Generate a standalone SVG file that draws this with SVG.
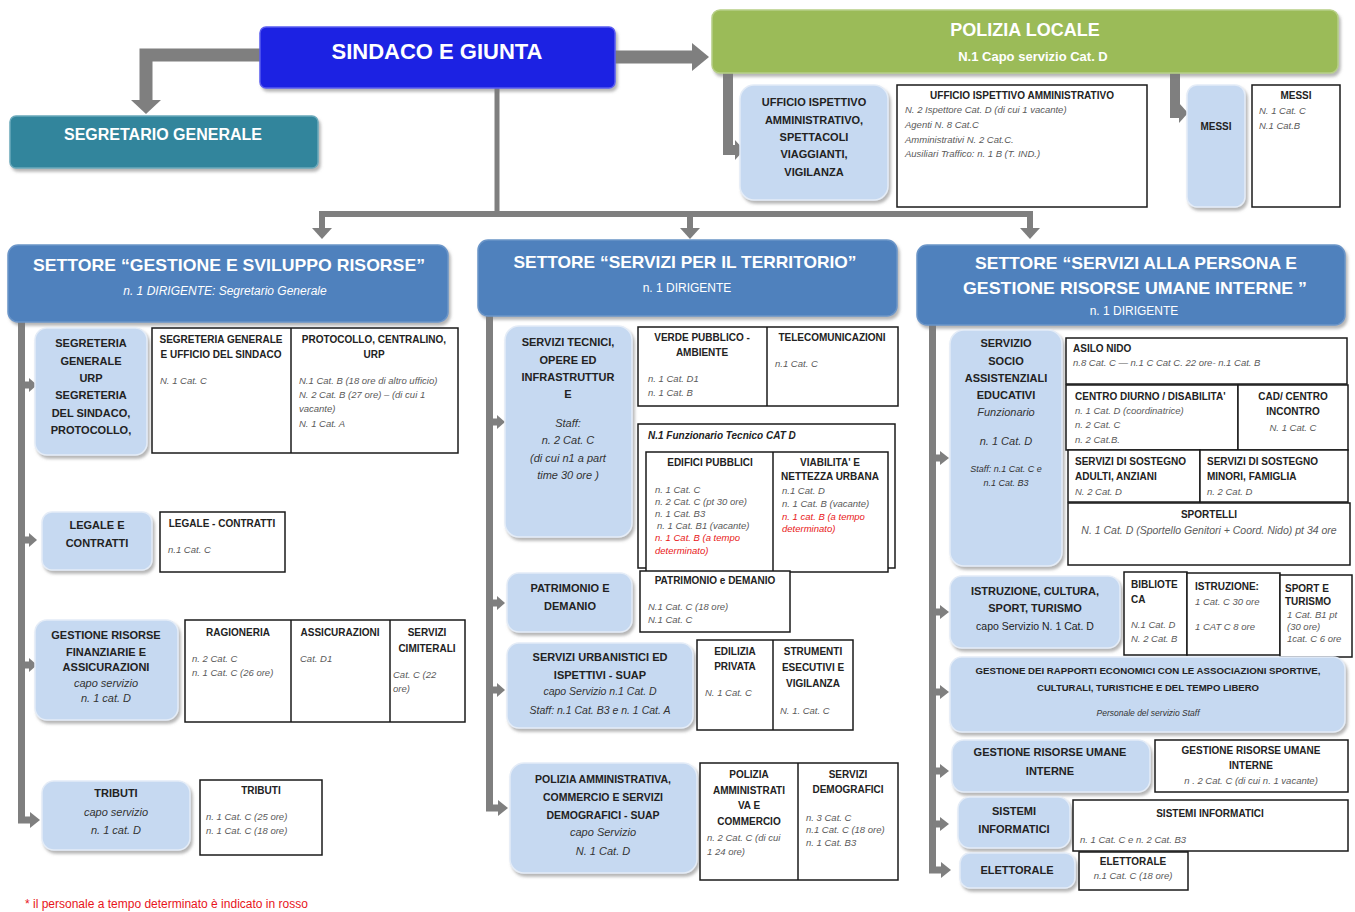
<svg xmlns="http://www.w3.org/2000/svg" width="1355" height="912" viewBox="0 0 1355 912">
<defs>
<filter id="sh" x="-10%" y="-10%" width="125%" height="130%"><feDropShadow dx="2" dy="3" stdDeviation="1.8" flood-color="#7a7a7a" flood-opacity="0.55"/></filter>
<style>
text{font-family:"Liberation Sans",Arial,sans-serif}
.lb{fill:#c6d9f1;stroke:#e4ecf7;stroke-width:1.5;filter:url(#sh)}
.wb{fill:#fff;stroke:#1a1a1a;stroke-width:1.5}
.dv{stroke:#1a1a1a;stroke-width:1.5}
.b{font-weight:bold;font-size:11px;fill:#222;text-anchor:middle}
.bi{font-style:italic;font-size:11px;fill:#333;text-anchor:middle}
.wt{font-weight:bold;font-size:10px;fill:#222;text-anchor:middle}
.wl{font-weight:bold;font-size:10px;fill:#222}
.c{font-style:italic;font-size:9.5px;fill:#5a5a5a}
.r{fill:#e81818}
.st{fill:#4f81bd;stroke:#6b95c8;stroke-width:1.5;filter:url(#sh)}
.sth{font-weight:bold;font-size:17px;fill:#fff;text-anchor:middle}
.sts{font-size:12px;fill:#fff;text-anchor:middle}
.ln{fill:none;stroke:#7f7f7f;stroke-linejoin:miter}
.ah{fill:#7f7f7f}
</style>
</defs>
<rect width="1355" height="912" fill="#fff"/>

<g id="connectors">
<path class="ln" d="M262 55 H146 V101" stroke-width="13"/>
<polygon class="ah" points="131,100 161,100 146,114"/>
<path class="ln" d="M613 57 H693" stroke-width="13"/>
<polygon class="ah" points="692,43 692,71 709,57"/>
<path class="ln" d="M497 88 V215" stroke-width="5"/>
<path class="ln" d="M319 214 H1033" stroke-width="6"/>
<path class="ln" d="M322 214 V229 M690 214 V229 M1030 214 V229" stroke-width="6"/>
<polygon class="ah" points="312,228 332,228 322,239"/>
<polygon class="ah" points="680,228 700,228 690,239"/>
<polygon class="ah" points="1020,228 1040,228 1030,239"/>
<path class="ln" d="M728 72 V150 H736" stroke-width="10"/>
<polygon class="ah" points="735,140 735,160 744,150"/>
<path class="ln" d="M1175 72 V113 H1180" stroke-width="10"/>
<polygon class="ah" points="1179,103 1179,123 1188,113"/>
<path class="ln" d="M21.5 322 V820 H31" stroke-width="7"/>
<path class="ln" d="M21.5 385 H30 M21.5 540 H30 M21.5 665 H30" stroke-width="7"/>
<polygon class="ah" points="29,378 29,392 37,385"/>
<polygon class="ah" points="29,533 29,547 37,540"/>
<polygon class="ah" points="29,658 29,672 37,665"/>
<polygon class="ah" points="30,812 30,828 40,820"/>
<path class="ln" d="M489.5 316 V808 H499" stroke-width="7"/>
<path class="ln" d="M489.5 422 H498 M489.5 603 H498 M489.5 690 H498" stroke-width="7"/>
<polygon class="ah" points="497,415 497,429 505,422"/>
<polygon class="ah" points="497,596 497,610 505,603"/>
<polygon class="ah" points="497,683 497,697 505,690"/>
<polygon class="ah" points="498,800 498,816 508,808"/>
<path class="ln" d="M932.5 325 V870 H942" stroke-width="7"/>
<path class="ln" d="M932.5 458 H941 M932.5 612 H941 M932.5 692 H941 M932.5 771 H941 M932.5 824 H941" stroke-width="7"/>
<polygon class="ah" points="940,451 940,465 949,458"/>
<polygon class="ah" points="940,605 940,619 949,612"/>
<polygon class="ah" points="940,685 940,699 949,692"/>
<polygon class="ah" points="940,764 940,778 949,771"/>
<polygon class="ah" points="940,817 940,831 949,824"/>
<polygon class="ah" points="941,862 941,878 951,870"/>
</g>

<g id="sindaco">
<rect x="260" y="27" width="355" height="61" rx="6" fill="#1f20e3" stroke="#5a5cf0" stroke-width="1.5" filter="url(#sh)"/>
<text x="437" y="59" font-size="22" font-weight="bold" fill="#fff" text-anchor="middle">SINDACO E GIUNTA</text>
</g>
<g id="polizia-locale">
<rect x="712" y="10" width="626" height="63" rx="8" fill="#9bbb59" stroke="#b7cf86" stroke-width="1.5" filter="url(#sh)"/>
<text x="1025" y="36" font-size="18" font-weight="bold" fill="#fff" text-anchor="middle">POLIZIA LOCALE</text>
<text x="1033" y="61" font-size="13" font-weight="bold" fill="#fff" text-anchor="middle">N.1 Capo servizio Cat. D</text>
</g>
<g id="segretario">
<rect x="10" y="116" width="308" height="52" rx="6" fill="#31859c" stroke="#6aa9bb" stroke-width="1.5" filter="url(#sh)"/>
<text x="163" y="140" font-size="16" font-weight="bold" fill="#fff" text-anchor="middle">SEGRETARIO GENERALE</text>
</g>

<g id="uff-ispettivo">
<rect class="lb" x="740" y="85" width="148" height="115" rx="14"/>
<text class="b" x="814" y="106">UFFICIO ISPETTIVO</text>
<text class="b" x="814" y="124">AMMINISTRATIVO,</text>
<text class="b" x="814" y="141">SPETTACOLI</text>
<text class="b" x="814" y="158">VIAGGIANTI,</text>
<text class="b" x="814" y="176">VIGILANZA</text>
</g>
<g id="uff-ispettivo-det">
<rect class="wb" x="897" y="85" width="250" height="122"/>
<text class="wt" x="1022" y="99">UFFICIO ISPETTIVO AMMINISTRATIVO</text>
<text class="c" x="905" y="113">N. 2 Ispettore Cat. D (di cui 1 vacante)</text>
<text class="c" x="905" y="128">Agenti  N. 8 Cat.C</text>
<text class="c" x="905" y="143">Amministrativi N. 2  Cat.C.</text>
<text class="c" x="905" y="157">Ausiliari Traffico: n. 1 B (T. IND.)</text>
</g>
<g id="messi">
<rect class="lb" x="1187" y="85" width="58" height="122" rx="10"/>
<text class="b" x="1216" y="130" style="font-size:10px">MESSI</text>
</g>
<g id="messi-det">
<rect class="wb" x="1252" y="85" width="88" height="122"/>
<text class="wt" x="1296" y="99">MESSI</text>
<text class="c" x="1259" y="114">N. 1 Cat. C</text>
<text class="c" x="1259" y="129">N.1 Cat.B</text>
</g>

<g id="settore-risorse">
<rect class="st" x="8" y="245" width="440" height="77" rx="10"/>
<text class="sth" x="229" y="271" textLength="392" lengthAdjust="spacingAndGlyphs">SETTORE “GESTIONE E SVILUPPO RISORSE”</text>
<text class="sts" x="225" y="295" font-style="italic">n. 1 DIRIGENTE:  Segretario Generale</text>
</g>
<g id="settore-territorio">
<rect class="st" x="478" y="240" width="419" height="76" rx="10"/>
<text class="sth" x="685" y="268" textLength="343" lengthAdjust="spacingAndGlyphs">SETTORE “SERVIZI PER IL TERRITORIO”</text>
<text class="sts" x="687" y="292">n. 1 DIRIGENTE</text>
</g>
<g id="settore-persona">
<rect class="st" x="917" y="245" width="428" height="80" rx="10"/>
<text class="sth" x="1136" y="269" textLength="322" lengthAdjust="spacingAndGlyphs">SETTORE “SERVIZI ALLA PERSONA  E</text>
<text class="sth" x="1135" y="294" textLength="344" lengthAdjust="spacingAndGlyphs">GESTIONE RISORSE UMANE INTERNE ”</text>
<text class="sts" x="1134" y="315">n. 1 DIRIGENTE</text>
</g>

<g id="segreteria">
<rect class="lb" x="35" y="328" width="112" height="127" rx="12"/>
<text class="b" x="91" y="347">SEGRETERIA</text>
<text class="b" x="91" y="365">GENERALE</text>
<text class="b" x="91" y="382">URP</text>
<text class="b" x="91" y="399">SEGRETERIA</text>
<text class="b" x="91" y="417">DEL SINDACO,</text>
<text class="b" x="91" y="434">PROTOCOLLO,</text>
</g>
<g id="segreteria-det">
<rect class="wb" x="152" y="328" width="306" height="125"/>
<line class="dv" x1="291" y1="328" x2="291" y2="453"/>
<text class="wt" x="221" y="343">SEGRETERIA GENERALE</text>
<text class="wt" x="221" y="358">E UFFICIO DEL SINDACO</text>
<text class="c" x="160" y="384">N. 1 Cat. C</text>
<text class="wt" x="374" y="343">PROTOCOLLO, CENTRALINO,</text>
<text class="wt" x="374" y="358">URP</text>
<text class="c" x="299" y="384">N.1 Cat. B (18 ore di altro ufficio)</text>
<text class="c" x="299" y="398">N. 2 Cat. B (27 ore) – (di cui 1</text>
<text class="c" x="299" y="412">vacante)</text>
<text class="c" x="299" y="427">N. 1 Cat. A</text>
</g>
<g id="legale">
<rect class="lb" x="42" y="512" width="110" height="58" rx="10"/>
<text class="b" x="97" y="529">LEGALE  E</text>
<text class="b" x="97" y="547">CONTRATTI</text>
</g>
<g id="legale-det">
<rect class="wb" x="160" y="512" width="125" height="60"/>
<text class="wt" x="222" y="527">LEGALE - CONTRATTI</text>
<text class="c" x="168" y="553">n.1 Cat. C</text>
</g>
<g id="gestione-finanziarie">
<rect class="lb" x="35" y="620" width="143" height="100" rx="12"/>
<text class="b" x="106" y="639">GESTIONE RISORSE</text>
<text class="b" x="106" y="656">FINANZIARIE E</text>
<text class="b" x="106" y="671">ASSICURAZIONI</text>
<text class="bi" x="106" y="687">capo servizio</text>
<text class="bi" x="106" y="702">n. 1 cat. D</text>
</g>
<g id="gestione-finanziarie-det">
<rect class="wb" x="185" y="620" width="280" height="102"/>
<line class="dv" x1="291" y1="620" x2="291" y2="722"/>
<line class="dv" x1="390" y1="620" x2="390" y2="722"/>
<text class="wt" x="238" y="636">RAGIONERIA</text>
<text class="c" x="192" y="662">n. 2 Cat. C</text>
<text class="c" x="192" y="676">n. 1 Cat. C (26 ore)</text>
<text class="wt" x="340" y="636">ASSICURAZIONI</text>
<text class="c" x="300" y="662">Cat. D1</text>
<text class="wt" x="427" y="636">SERVIZI</text>
<text class="wt" x="427" y="652">CIMITERALI</text>
<text class="c" x="393" y="678">Cat. C (22</text>
<text class="c" x="393" y="692">ore)</text>
</g>
<g id="tributi">
<rect class="lb" x="42" y="781" width="148" height="69" rx="12"/>
<text class="b" x="116" y="797">TRIBUTI</text>
<text class="bi" x="116" y="816">capo servizio</text>
<text class="bi" x="116" y="834">n. 1 cat. D</text>
</g>
<g id="tributi-det">
<rect class="wb" x="200" y="780" width="122" height="75"/>
<text class="wt" x="261" y="794">TRIBUTI</text>
<text class="c" x="206" y="820">n. 1 Cat. C  (25 ore)</text>
<text class="c" x="206" y="834">n. 1 Cat. C (18 ore)</text>
</g>

<g id="servizi-tecnici">
<rect class="lb" x="505" y="326" width="127" height="211" rx="14"/>
<text class="b" x="568" y="346">SERVIZI TECNICI,</text>
<text class="b" x="568" y="364">OPERE ED</text>
<text class="b" x="568" y="381">INFRASTRUTTUR</text>
<text class="b" x="568" y="398">E</text>
<text class="bi" x="568" y="427">Staff:</text>
<text class="bi" x="568" y="444">n. 2 Cat.  C</text>
<text class="bi" x="568" y="462">(di cui n1 a part</text>
<text class="bi" x="568" y="479">time 30 ore )</text>
</g>
<g id="verde-telecom">
<rect class="wb" x="638" y="327" width="260" height="79"/>
<line class="dv" x1="767" y1="327" x2="767" y2="406"/>
<text class="wt" x="702" y="341">VERDE PUBBLICO -</text>
<text class="wt" x="702" y="356">AMBIENTE</text>
<text class="c" x="648" y="382">n. 1 Cat. D1</text>
<text class="c" x="648" y="396">n. 1 Cat. B</text>
<text class="wt" x="832" y="341">TELECOMUNICAZIONI</text>
<text class="c" x="775" y="367">n.1 Cat. C</text>
</g>
<g id="funzionario-tecnico">
<rect class="wb" x="638" y="424" width="257" height="144"/>
<text class="wl" x="648" y="439" font-style="italic">N.1 Funzionario Tecnico CAT D</text>
<rect class="wb" x="646" y="452" width="242" height="120"/>
<line class="dv" x1="773" y1="452" x2="773" y2="572"/>
<text class="wt" x="710" y="466">EDIFICI PUBBLICI</text>
<text class="c" x="655" y="493">n. 1 Cat. C</text>
<text class="c" x="655" y="505">n. 2 Cat. C (pt 30 ore)</text>
<text class="c" x="655" y="517">n. 1 Cat. B3</text>
<text class="c" x="657" y="529">n. 1 Cat. B1 (vacante)</text>
<text class="c r" x="655" y="541">n. 1 Cat. B (a tempo</text>
<text class="c r" x="655" y="554">determinato)</text>
<text class="wt" x="830" y="466">VIABILITA' E</text>
<text class="wt" x="830" y="480">NETTEZZA URBANA</text>
<text class="c" x="782" y="494">n.1 Cat. D</text>
<text class="c" x="782" y="507">n. 1 Cat. B (vacante)</text>
<text class="c r" x="782" y="520">n. 1 cat. B (a tempo</text>
<text class="c r" x="782" y="532">determinato)</text>
</g>
<g id="patrimonio">
<rect class="lb" x="507" y="573" width="125" height="59" rx="12"/>
<text class="b" x="570" y="592">PATRIMONIO E</text>
<text class="b" x="570" y="610">DEMANIO</text>
</g>
<g id="patrimonio-det">
<rect class="wb" x="640" y="571" width="150" height="61"/>
<text class="wt" x="715" y="584">PATRIMONIO e DEMANIO</text>
<text class="c" x="648" y="610">N.1 Cat. C  (18 ore)</text>
<text class="c" x="648" y="623">N.1 Cat. C</text>
</g>
<g id="urbanistici">
<rect class="lb" x="507" y="643" width="186" height="85" rx="12"/>
<text class="b" x="600" y="661">SERVIZI URBANISTICI ED</text>
<text class="b" x="600" y="679">ISPETTIVI - SUAP</text>
<text class="bi" x="600" y="695" style="font-size:10.5px">capo Servizio  n.1 Cat.  D</text>
<text class="bi" x="600" y="714" style="font-size:10.5px">Staff: n.1 Cat. B3 e n. 1 Cat.  A</text>
</g>
<g id="urbanistici-det">
<rect class="wb" x="697" y="640" width="156" height="90"/>
<line class="dv" x1="773" y1="640" x2="773" y2="730"/>
<text class="wt" x="735" y="655">EDILIZIA</text>
<text class="wt" x="735" y="670">PRIVATA</text>
<text class="c" x="705" y="696">N. 1 Cat. C</text>
<text class="wt" x="813" y="655">STRUMENTI</text>
<text class="wt" x="813" y="671">ESECUTIVI E</text>
<text class="wt" x="813" y="687">VIGILANZA</text>
<text class="c" x="780" y="714">N. 1. Cat. C</text>
</g>
<g id="polizia-amministrativa">
<rect class="lb" x="510" y="763" width="187" height="110" rx="14"/>
<text class="b" x="603" y="783" style="font-size:10.5px">POLIZIA AMMINISTRATIVA,</text>
<text class="b" x="603" y="801" style="font-size:10.5px">COMMERCIO E SERVIZI</text>
<text class="b" x="603" y="819" style="font-size:10.5px">DEMOGRAFICI - SUAP</text>
<text class="bi" x="603" y="836">capo Servizio</text>
<text class="bi" x="603" y="855">N. 1 Cat.  D</text>
</g>
<g id="polizia-amministrativa-det">
<rect class="wb" x="700" y="763" width="198" height="117"/>
<line class="dv" x1="798" y1="763" x2="798" y2="880"/>
<text class="wt" x="749" y="778">POLIZIA</text>
<text class="wt" x="749" y="794">AMMINISTRATI</text>
<text class="wt" x="749" y="809">VA E</text>
<text class="wt" x="749" y="825">COMMERCIO</text>
<text class="c" x="707" y="841">n. 2 Cat. C (di cui</text>
<text class="c" x="707" y="855">1 24 ore)</text>
<text class="wt" x="848" y="778">SERVIZI</text>
<text class="wt" x="848" y="793">DEMOGRAFICI</text>
<text class="c" x="806" y="821">n. 3 Cat. C</text>
<text class="c" x="806" y="833">n.1 Cat. C (18 ore)</text>
<text class="c" x="806" y="846">n. 1 Cat. B3</text>
</g>

<g id="socio-assistenziali">
<rect class="lb" x="950" y="330" width="112" height="236" rx="14"/>
<text class="b" x="1006" y="347">SERVIZIO</text>
<text class="b" x="1006" y="365">SOCIO</text>
<text class="b" x="1006" y="382">ASSISTENZIALI</text>
<text class="b" x="1006" y="399">EDUCATIVI</text>
<text class="bi" x="1006" y="416">Funzionario</text>
<text class="bi" x="1006" y="445">n. 1 Cat.  D</text>
<text class="bi" x="1006" y="472" style="font-size:9px">Staff: n.1 Cat. C e</text>
<text class="bi" x="1006" y="486" style="font-size:9px">n.1 Cat. B3</text>
</g>
<g id="socio-det">
<rect class="wb" x="1066" y="338" width="281" height="46"/>
<text class="wl" x="1073" y="352">ASILO NIDO</text>
<text class="c" x="1073" y="366">n.8 Cat. C — n.1 C Cat C. 22 ore- n.1 Cat. B</text>
<rect class="wb" x="1066" y="385" width="172" height="65"/>
<text class="wl" x="1075" y="400">CENTRO DIURNO / DISABILITA'</text>
<text class="c" x="1075" y="414">n. 1 Cat. D  (coordinatrice)</text>
<text class="c" x="1075" y="428">n. 2  Cat. C</text>
<text class="c" x="1075" y="443">n. 2 Cat.B.</text>
<rect class="wb" x="1238" y="385" width="110" height="65"/>
<text class="wt" x="1293" y="400">CAD/ CENTRO</text>
<text class="wt" x="1293" y="415">INCONTRO</text>
<text class="c" x="1293" y="431" text-anchor="middle">N. 1 Cat. C</text>
<rect class="wb" x="1068" y="450" width="132" height="52"/>
<text class="wl" x="1075" y="465">SERVIZI DI SOSTEGNO</text>
<text class="wl" x="1075" y="480">ADULTI, ANZIANI</text>
<text class="c" x="1075" y="495">N. 2 Cat. D</text>
<rect class="wb" x="1200" y="450" width="148" height="52"/>
<text class="wl" x="1207" y="465">SERVIZI DI SOSTEGNO</text>
<text class="wl" x="1207" y="480">MINORI, FAMIGLIA</text>
<text class="c" x="1207" y="495">n. 2 Cat. D</text>
<rect class="wb" x="1068" y="503" width="282" height="62"/>
<text class="wt" x="1209" y="518">SPORTELLI</text>
<text class="c" x="1209" y="534" text-anchor="middle" style="font-size:10.5px">N. 1 Cat. D (Sportello Genitori + Coord. Nido) pt 34 ore</text>
</g>
<g id="istruzione">
<rect class="lb" x="950" y="576" width="170" height="72" rx="12"/>
<text class="b" x="1035" y="595">ISTRUZIONE, CULTURA,</text>
<text class="b" x="1035" y="612">SPORT, TURISMO</text>
<text x="1035" y="630" font-size="10.5" fill="#222" text-anchor="middle">capo Servizio  N.  1 Cat.  D</text>
</g>
<g id="istruzione-det">
<rect class="wb" x="1124" y="572" width="63" height="83"/>
<text class="wl" x="1131" y="588">BIBLIOTE</text>
<text class="wl" x="1131" y="603">CA</text>
<text class="c" x="1131" y="628">N.1 Cat. D</text>
<text class="c" x="1131" y="642">N. 2 Cat. B</text>
<rect class="wb" x="1187" y="573" width="93" height="82"/>
<text class="wl" x="1195" y="590">ISTRUZIONE:</text>
<text class="c" x="1195" y="605">1 Cat. C 30 ore</text>
<text class="c" x="1195" y="630">1 CAT C 8 ore</text>
<rect class="wb" x="1280" y="575" width="72" height="82"/>
<text class="wl" x="1285" y="592">SPORT E</text>
<text class="wl" x="1285" y="605">TURISMO</text>
<text class="c" x="1287" y="618">1 Cat. B1 pt</text>
<text class="c" x="1287" y="630">(30 ore)</text>
<text class="c" x="1287" y="642">1cat. C 6 ore</text>
</g>
<g id="rapporti-associazioni">
<rect class="lb" x="950" y="657" width="395" height="75" rx="12"/>
<text class="b" x="1148" y="674" style="font-size:8.3px" textLength="345" lengthAdjust="spacingAndGlyphs">GESTIONE  DEI RAPPORTI  ECONOMICI  CON LE ASSOCIAZIONI  SPORTIVE,</text>
<text class="b" x="1148" y="691" style="font-size:8.3px" textLength="222" lengthAdjust="spacingAndGlyphs">CULTURALI,  TURISTICHE  E DEL  TEMPO LIBERO</text>
<text class="bi" x="1148" y="716" style="font-size:8.5px">Personale  del servizio Staff</text>
</g>
<g id="risorse-umane">
<rect class="lb" x="952" y="740" width="198" height="52" rx="12"/>
<text class="b" x="1050" y="756">GESTIONE RISORSE UMANE</text>
<text class="b" x="1050" y="775">INTERNE</text>
</g>
<g id="risorse-umane-det">
<rect class="wb" x="1155" y="740" width="193" height="52"/>
<text class="wt" x="1251" y="754">GESTIONE RISORSE UMANE</text>
<text class="wt" x="1251" y="769">INTERNE</text>
<text class="c" x="1251" y="784" text-anchor="middle">n . 2 Cat. C (di cui n. 1 vacante)</text>
</g>
<g id="sistemi-informatici">
<rect class="lb" x="958" y="797" width="112" height="51" rx="12"/>
<text class="b" x="1014" y="815">SISTEMI</text>
<text class="b" x="1014" y="833">INFORMATICI</text>
</g>
<g id="sistemi-informatici-det">
<rect class="wb" x="1073" y="800" width="275" height="51"/>
<text class="wt" x="1210" y="817">SISTEMI INFORMATICI</text>
<text class="c" x="1080" y="843">n. 1 Cat. C e  n. 2 Cat. B3</text>
</g>
<g id="elettorale">
<rect class="lb" x="960" y="853" width="115" height="35" rx="10"/>
<text class="b" x="1017" y="874">ELETTORALE</text>
</g>
<g id="elettorale-det">
<rect class="wb" x="1079" y="852" width="109" height="38"/>
<text class="wt" x="1133" y="865">ELETTORALE</text>
<text class="c" x="1133" y="879" text-anchor="middle">n.1 Cat. C (18 ore)</text>
</g>

<text x="25" y="908" font-size="12" fill="#e8151b">* il personale a tempo determinato è indicato in rosso</text>
</svg>
